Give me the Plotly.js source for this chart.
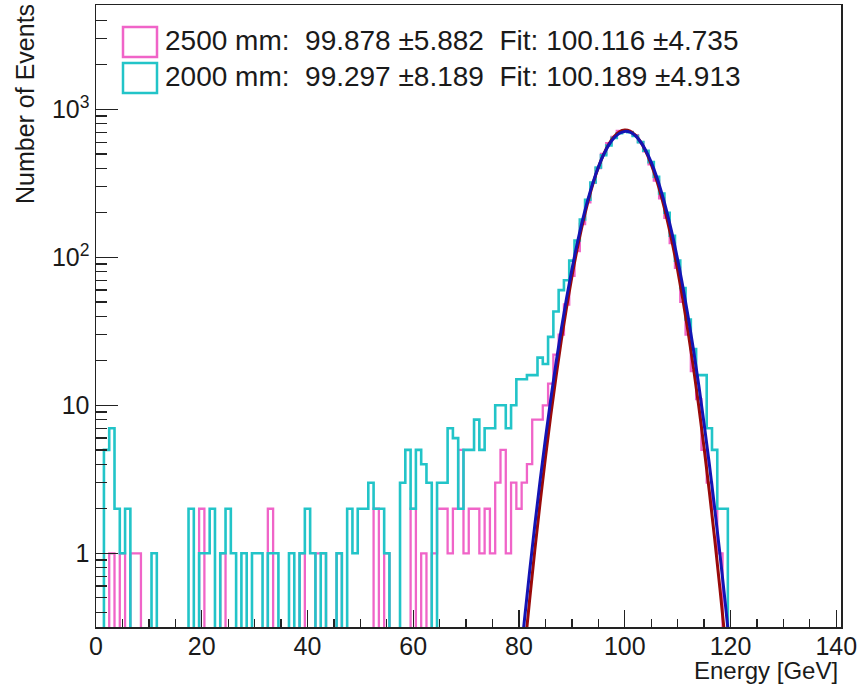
<!DOCTYPE html>
<html><head><meta charset="utf-8">
<script src="https://cdn.plot.ly/plotly-3.0.1.min.js"></script>
<style>html,body{margin:0;padding:0;background:#fff}#plot{width:865px;height:686px}</style>
</head><body><div id="plot"></div>
<script>
// Histogram bins: 1 GeV wide, centred on integer energies 0..140
const binWidth = 1;

// 2500 mm histogram (counts per bin, bins 0..140)
const counts2500 = [
  0,0,0,1,0,1,0,1,1,0,
  0,0,0,0,0,0,0,0,0,0,
  2,0,0,0,1,0,0,0,0,0,
  0,0,0,2,0,0,0,0,0,1,
  0,0,1,1,0,0,1,0,0,0,
  0,0,0,2,0,1,0,0,0,0,
  2,0,1,0,1,2,2,1,2,5,
  1,2,2,1,2,1,3,5,1,3,
  2,3,4,8,8,10,14,22,30,48,
  75,110,168,235,318,400,500,590,650,715,
  720,705,670,600,520,425,330,250,185,125,
  85,50,30,17,11,5,3,2,1,0,
  0,0,0,0,0,0,0,0,0,0,
  0,0,0,0,0,0,0,0,0,0,
  0
];

// 2000 mm histogram (counts per bin, bins 0..140)
const counts2000 = [
  0,0,5,7,2,1,2,0,0,0,
  0,1,0,0,0,0,0,0,2,0,
  1,1,2,0,1,2,1,0,1,0,
  1,1,0,1,1,0,0,1,0,1,
  2,1,0,1,0,0,1,0,2,1,
  2,2,3,2,2,1,0,0,3,5,
  2,5,4,3,0,3,3,7,6,2,
  5,5,8,5,7,7,10,10,7,10,
  15,15,16,16,21,19,29,43,60,70,
  95,130,180,245,320,405,490,570,640,690,
  715,700,660,600,525,440,350,270,200,140,
  95,62,38,24,16,16,7,5,2,2,
  0,0,0,0,0,0,0,0,0,0,
  0,0,0,0,0,0,0,0,0,0,
  0
];

// Fit curves
const fitE = [80,81,82,83,84,85,86,87,88,89,90,91,92,93,94,95,96,97,98,99,100,
              101,102,103,104,105,106,107,108,109,110,111,112,113,114,115,116,117,118,119,120];
const fit2500 = [0.087,0.21,0.48,1.06,2.21,4.44,8.52,15.6,27.5,46.0,74.0,113.6,166.9,234.4,314.8,404.4,496.8,583.8,656.1,705.2,724.8,
                 712.5,669.9,602.3,517.9,425.9,335.0,251.9,181.3,124.7,82.1,51.6,31.1,17.9,9.85,5.18,2.61,1.26,0.58,0.255,0.107];
const fit2000 = [0.153,0.346,0.749,1.56,3.11,5.96,10.96,19.3,32.7,53.1,82.6,123.5,177.0,243.3,321.1,406.4,493.6,575.1,642.9,689.5,709.5,
                 700.4,663.3,602.8,525.5,439.6,352.7,271.6,200.6,142.2,96.6,63.0,39.5,23.7,13.66,7.54,4.00,2.03,0.99,0.465,0.209];

const legend2500 = "2500 mm:  99.878 \u00b15.882  Fit: 100.116 \u00b14.735";
const legend2000 = "2000 mm:  99.297 \u00b18.189  Fit: 100.189 \u00b14.913";

const C_MAG = '#f064c8', C_CYAN = '#22c4c8', C_RED = '#9a0a0a', C_BLUE = '#1414b4';

function stepXY(vals){
  const xs = [], ys = [];
  for (let k = 0; k < vals.length; k++){
    xs.push(k - binWidth/2);
    ys.push(vals[k] > 0 ? vals[k] : 1e-3);
  }
  xs.push(vals.length - binWidth/2);
  ys.push(vals[vals.length-1] > 0 ? vals[vals.length-1] : 1e-3);
  return {x: xs, y: ys};
}

const s25 = stepXY(counts2500), s20 = stepXY(counts2000);
const traces = [
  {x: s25.x, y: s25.y, mode:'lines', line:{shape:'hv', color:C_MAG, width:2.3}, name:'2500 mm', showlegend:false, hoverinfo:'skip'},
  {x: s20.x, y: s20.y, mode:'lines', line:{shape:'hv', color:C_CYAN, width:2.6}, name:'2000 mm', showlegend:false, hoverinfo:'skip'},
  {x: fitE, y: fit2500, mode:'lines', line:{shape:'spline', color:C_RED, width:3}, showlegend:false, hoverinfo:'skip'},
  {x: fitE, y: fit2000, mode:'lines', line:{shape:'spline', color:C_BLUE, width:3}, showlegend:false, hoverinfo:'skip'}
];

const W = 865, H = 686, ML = 96, MR = 24, MT = 5, MB = 59;
const PW = W - ML - MR, PH = H - MT - MB;
const fx = px => (px - ML) / PW;
const fy = py => (H - MB - py) / PH;

const minorY = [0.4,0.5,0.6,0.7,0.8,0.9,2,3,4,5,6,7,8,9,20,30,40,50,60,70,80,90,
                200,300,400,500,600,700,800,900,2000,3000,4000,5000];
const FONT = 'Liberation Sans, Arial, Helvetica, sans-serif';

const layout = {
  width: W, height: H,
  margin: {l: ML, r: MR, t: MT, b: MB},
  paper_bgcolor: '#fff', plot_bgcolor: '#fff',
  showlegend: false,
  font: {family: FONT, color: '#1a1a1a'},
  xaxis: {
    range: [0, 140.9], tickmode: 'linear', tick0: 0, dtick: 20,
    ticks: 'inside', ticklen: 17, tickwidth: 1.3, tickcolor: '#222',
    minor: {dtick: 5, tick0: 0, ticks: 'inside', ticklen: 8, tickwidth: 1.3, tickcolor: '#222'},
    showline: true, linecolor: '#222', linewidth: 1.5, mirror: true,
    showgrid: false, zeroline: false, ticklabelstandoff: -4,
    tickfont: {size: 25, family: FONT, color: '#1a1a1a'}
  },
  yaxis: {
    type: 'log', range: [-0.498, 3.705],
    tickmode: 'array', tickvals: [1, 10, 100, 1000],
    ticktext: ['1', '10', '10<sup>2</sup>', '10<sup>3</sup>'],
    ticks: 'inside', ticklen: 22, tickwidth: 1.3, tickcolor: '#222',
    minor: {tickmode: 'array', tickvals: minorY, ticks: 'inside', ticklen: 11, tickwidth: 1.3, tickcolor: '#222'},
    showline: true, linecolor: '#222', linewidth: 1.5, mirror: true,
    showgrid: false, zeroline: false,
    tickfont: {size: 25, family: FONT, color: '#1a1a1a'}
  },
  shapes: [
    {type:'rect', xref:'paper', yref:'paper', x0: fx(123), x1: fx(157), y0: fy(57), y1: fy(27),
     line:{color:C_MAG, width:2.5}, fillcolor:'rgba(0,0,0,0)'},
    {type:'rect', xref:'paper', yref:'paper', x0: fx(123), x1: fx(157), y0: fy(93), y1: fy(63),
     line:{color:C_CYAN, width:2.5}, fillcolor:'rgba(0,0,0,0)'}
  ],
  annotations: [
    {text: legend2500, xref:'paper', yref:'paper', x: fx(163), y: fy(41), xanchor:'left', yanchor:'middle',
     showarrow:false, font:{size:28, family:FONT, color:'#1a1a1a'}},
    {text: legend2000, xref:'paper', yref:'paper', x: fx(163), y: fy(77), xanchor:'left', yanchor:'middle',
     showarrow:false, font:{size:28, family:FONT, color:'#1a1a1a'}},
    {text: 'Energy [GeV]', xref:'paper', yref:'paper', x: fx(840), y: fy(686), xanchor:'right', yanchor:'bottom',
     showarrow:false, font:{size:24, family:FONT, color:'#1a1a1a'}},
    {text: 'Number of Events', xref:'paper', yref:'paper', x: fx(25), y: fy(2), xanchor:'center', yanchor:'top',
     textangle: -90, showarrow:false, font:{size:25, family:FONT, color:'#1a1a1a'}}
  ]
};

Plotly.newPlot('plot', traces, layout, {displayModeBar: false, staticPlot: true});
</script></body></html>
